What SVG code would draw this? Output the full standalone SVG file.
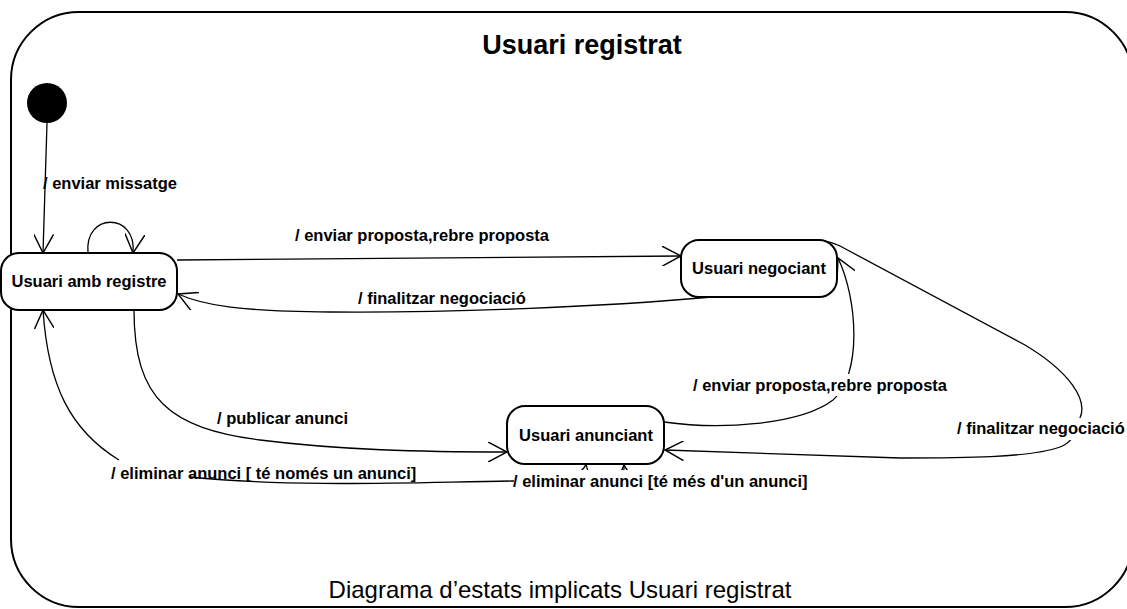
<svg xmlns="http://www.w3.org/2000/svg" width="1127" height="609" viewBox="0 0 1127 609">
  <style>
    .frame { fill: none; stroke: #000; stroke-width: 2; }
    .state rect { fill: #fff; stroke: #000; stroke-width: 2; }
    .state text { font-family: "Liberation Sans", Arial, sans-serif; font-weight: bold; font-size: 16.5px; text-anchor: middle; fill: #000; }
    .edge { fill: none; stroke: #000; stroke-width: 1.3; }
    .lbl { font-family: "Liberation Sans", Arial, sans-serif; font-weight: bold; font-size: 16.5px; fill: #000; }
    .bg { fill: #fff; stroke: none; }
    .title { font-family: "Liberation Sans", Arial, sans-serif; font-weight: bold; font-size: 27px; text-anchor: middle; fill: #000; }
    .caption { font-family: "Liberation Sans", Arial, sans-serif; font-size: 24px; text-anchor: middle; fill: #000; }
  </style>
  <defs>
    <marker id="open" markerUnits="userSpaceOnUse" markerWidth="20" markerHeight="20" viewBox="0 0 18 18" refX="17" refY="9" orient="auto">
      <path d="M0,0 L17,9 L0,18" fill="none" stroke="#000" stroke-width="1.3"/>
    </marker>
  </defs>

  <rect width="1127" height="609" fill="#fff"/>

  <!-- composite state frame -->
  <g id="composite">
    <rect class="frame" x="11" y="12" width="1122" height="595" rx="68" ry="68"/>
    <text class="title" x="582" y="54">Usuari registrat</text>
  </g>

  <!-- transitions -->
  <g id="connectors">
    <path class="edge" d="M47,123 L43,253" marker-end="url(#open)"/>
    <path class="edge" d="M88,253 C84,212 137,212 133,253" marker-end="url(#open)"/>
    <path class="edge" d="M177,260 L681,256" marker-end="url(#open)"/>
    <path class="edge" d="M712,297 C600,307 450,313 330,312 C240,311 205,306 178,294" marker-end="url(#open)"/>
    <path class="edge" d="M134,310 C134,400 170,428 260,440 C340,450 420,452 507,452" marker-end="url(#open)"/>
    <path class="edge" d="M586,464 C582,476 562,481 512,481 C420,482 300,488 190,477"/>
    <path class="edge" d="M119,460 C70,430 48,385 43,310" marker-end="url(#open)"/>
    <path class="edge" d="M586,464 C590,490 626,490 624,465" marker-end="url(#open)"/>
    <path class="edge" d="M664,422 C720,430 800,425 833,400 C862,375 858,300 838,258" marker-end="url(#open)"/>
    <path class="edge" d="M805,240 C820,239 830,241 840,246 L1025,345 C1070,372 1088,400 1080,418 C1076,438 1068,444 1060,447 C1030,458 960,458 900,458 L665,450" marker-end="url(#open)"/>
  </g>

  <!-- transition labels -->
  <g id="labels">
    <text class="lbl" x="43" y="189">/ enviar missatge</text>
    <text class="lbl" x="295" y="241">/ enviar proposta,rebre proposta</text>
    <text class="lbl" x="358" y="304">/ finalitzar negociació</text>
    <text class="lbl" x="217" y="424">/ publicar anunci</text>
    <text class="lbl" x="111" y="479">/ eliminar anunci [ té només un anunci]</text>
    <rect class="bg" x="514" y="470" width="298" height="22"/>
    <text class="lbl" x="513" y="487">/ eliminar anunci [té més d'un anunci]</text>
    <rect class="bg" x="692" y="374" width="256" height="22"/>
    <text class="lbl" x="693" y="391">/ enviar proposta,rebre proposta</text>
    <rect class="bg" x="955" y="418" width="170" height="22"/>
    <text class="lbl" x="957" y="434">/ finalitzar negociació</text>
  </g>

  <!-- states -->
  <g id="initial">
    <circle cx="47" cy="103" r="20" fill="#000"/>
  </g>
  <g id="usuari-amb-registre" class="state">
    <rect x="1" y="253" width="176" height="57" rx="18" ry="18"/>
    <text x="89" y="287">Usuari amb registre</text>
  </g>
  <g id="usuari-negociant" class="state">
    <rect x="681" y="240" width="156" height="57" rx="18" ry="18"/>
    <text x="759" y="274">Usuari negociant</text>
  </g>
  <g id="usuari-anunciant" class="state">
    <rect x="507" y="406" width="157" height="58" rx="18" ry="18"/>
    <text x="586" y="441">Usuari anunciant</text>
  </g>

  <text class="caption" x="560" y="598">Diagrama d’estats implicats Usuari registrat</text>
</svg>
